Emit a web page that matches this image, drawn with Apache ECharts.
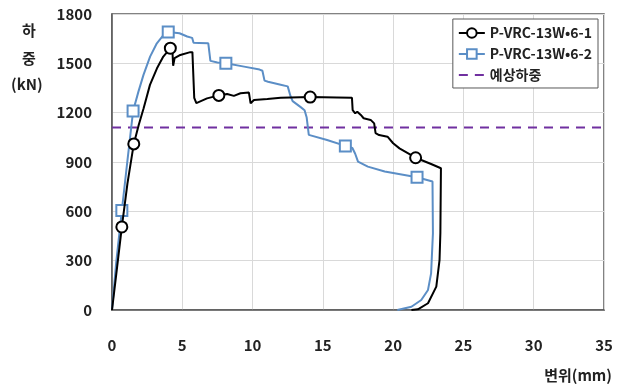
<!DOCTYPE html>
<html>
<head>
<meta charset="utf-8">
<script src="https://cdn.jsdelivr.net/npm/echarts@6/dist/echarts.min.js"></script>
<style>
  html, body { margin: 0; padding: 0; background: #fff; }
  #chart { width: 630px; height: 390px; }
</style>
</head>
<body>
<div id="chart"></div>
<script>
// Load–displacement curves of the two P-VRC-13W·6 specimens
const seriesNames = ['P-VRC-13W•6-1', 'P-VRC-13W•6-2', '예상하중'];

// Specimen 1: [displacement (mm), load (kN)]
const specimen1 = [
  [0, 0], [0.3, 215], [0.7, 505], [1.1, 770], [1.55, 1010], [1.9, 1125], [2.25, 1227],
  [2.7, 1369], [3.2, 1470], [3.65, 1541], [4.15, 1592], [4.3, 1570],
  [4.35, 1485], [4.45, 1531], [4.86, 1551], [5.57, 1568], [5.72, 1568], [5.85, 1290],
  [6.0, 1258], [6.76, 1287], [7.6, 1305], [8.19, 1314], [8.67, 1302], [9.14, 1318],
  [9.74, 1322], [9.86, 1257], [10.1, 1277], [11.05, 1283], [12.0, 1290], [14.1, 1295],
  [16.0, 1292], [17.07, 1290], [17.12, 1215], [17.3, 1196], [17.45, 1206], [17.7, 1186],
  [17.9, 1166], [18.4, 1156], [18.65, 1135], [18.75, 1075], [19.0, 1064], [19.6, 1054],
  [20.0, 1014], [20.45, 983], [21.6, 926], [22.7, 888], [23.4, 862], [23.36, 468],
  [23.3, 304], [23.07, 142], [22.48, 41], [21.76, 4], [21.3, 0]
];
const specimen1Markers = [0.7, 1.55, 4.15, 7.6, 14.1, 21.6];

// Specimen 2: [displacement (mm), load (kN)]
const specimen2 = [
  [0, 0], [0.3, 290], [0.7, 605], [1.1, 910], [1.5, 1210], [1.88, 1328], [2.24, 1430],
  [2.71, 1541], [3.19, 1622], [3.6, 1665], [4.0, 1690], [4.8, 1683],
  [5.35, 1663], [5.7, 1655], [5.8, 1625], [6.2, 1624], [6.85, 1622],
  [7.0, 1515], [7.5, 1505], [8.1, 1500], [9.4, 1480], [10.5, 1462], [10.7, 1455],
  [10.85, 1395], [11.1, 1388], [12.0, 1370], [12.5, 1360], [12.7, 1300], [12.85, 1270],
  [13.4, 1235], [13.7, 1215], [13.85, 1170], [14.0, 1065], [15.3, 1034], [16.6, 998],
  [17.1, 985], [17.3, 950], [17.5, 902], [18.2, 872], [19.4, 842], [21.7, 807],
  [22.8, 781], [22.83, 466], [22.7, 223], [22.48, 122], [22.0, 61], [21.3, 20], [20.3, 0]
];
const specimen2Markers = [0.7, 1.5, 4.0, 8.1, 16.6, 21.7];

// Predicted load level (kN) drawn across the whole displacement range
const predictedLoad = 1110;
const xRange = [0, 35];

const xTicks = { min: 0, max: 35, interval: 5 };
const yTicks = { min: 0, max: 1800, interval: 300 };

const FONT = '"Noto Sans CJK KR", "Noto Sans", sans-serif';

function withMarkers(points, markerXs) {
  return points.map(p => markerXs.includes(p[0])
    ? { value: p }
    : { value: p, symbol: 'none' });
}

const chart = echarts.init(document.getElementById('chart'), null, { renderer: 'canvas' });

chart.setOption({
  animation: false,
  backgroundColor: '#fff',
  grid: {
    left: 112, right: 26, top: 14, bottom: 80,
    show: true, borderColor: '#595959', borderWidth: 1.5, backgroundColor: 'transparent'
  },
  legend: {
    orient: 'vertical',
    right: 32, top: 19,
    padding: [7, 6, 6, 5],
    itemGap: 7,
    itemWidth: 26, itemHeight: 12,
    backgroundColor: '#fff',
    borderColor: '#595959', borderWidth: 1,
    textStyle: { fontFamily: FONT, fontSize: 14, color: '#222', fontWeight: 'bold' },
    data: [
      seriesNames[0],
      seriesNames[1],
      { name: seriesNames[2], itemStyle: { opacity: 0 } }
    ]
  },
  xAxis: {
    type: 'value',
    min: xTicks.min, max: xTicks.max, interval: xTicks.interval,
    axisLine: { show: true, lineStyle: { color: '#595959', width: 1.5 } },
    axisTick: { show: false },
    axisLabel: { margin: 28, color: '#222', fontFamily: FONT, fontSize: 15, fontWeight: 'bold' },
    splitLine: { show: true, lineStyle: { color: '#d9d9d9', width: 1 } }
  },
  yAxis: {
    type: 'value',
    min: yTicks.min, max: yTicks.max, interval: yTicks.interval,
    axisLine: { show: true, lineStyle: { color: '#595959', width: 1.5 } },
    axisTick: { show: false },
    axisLabel: {
      margin: 20, color: '#222', fontFamily: FONT, fontSize: 15, fontWeight: 'bold',
      formatter: v => String(v)
    },
    splitLine: { show: true, lineStyle: { color: '#d9d9d9', width: 1 } }
  },
  graphic: [
    { type: 'text', left: 22, top: 23, style: { text: '하', fontFamily: FONT, fontSize: 15, fontWeight: 'bold', fill: '#222' } },
    { type: 'text', left: 22, top: 51, style: { text: '중', fontFamily: FONT, fontSize: 15, fontWeight: 'bold', fill: '#222' } },
    { type: 'text', left: 11, top: 77, style: { text: '(kN)', fontFamily: FONT, fontSize: 15, fontWeight: 'bold', fill: '#222' } },
    { type: 'text', right: 18, top: 368, style: { text: '변위(mm)', fontFamily: FONT, fontSize: 15, fontWeight: 'bold', fill: '#222' } }
  ],
  series: [
    {
      name: seriesNames[0], type: 'line',
      data: withMarkers(specimen1, specimen1Markers),
      showAllSymbol: true, symbol: 'circle', symbolSize: 11,
      itemStyle: { color: '#fff', borderColor: '#000', borderWidth: 2 },
      lineStyle: { color: '#000', width: 2 },
      z: 4
    },
    {
      name: seriesNames[1], type: 'line',
      data: withMarkers(specimen2, specimen2Markers),
      showAllSymbol: true, symbol: 'rect', symbolSize: 11,
      itemStyle: { color: '#fff', borderColor: '#5b8ec6', borderWidth: 2 },
      lineStyle: { color: '#5b8ec6', width: 2 },
      z: 3
    },
    {
      name: seriesNames[2], type: 'line',
      data: xRange.map(x => [x, predictedLoad]),
      symbol: 'none',
      itemStyle: { color: '#7030a0' },
      lineStyle: { color: '#7030a0', width: 2, type: [9, 7] },
      z: 2
    }
  ]
});
</script>
</body>
</html>
